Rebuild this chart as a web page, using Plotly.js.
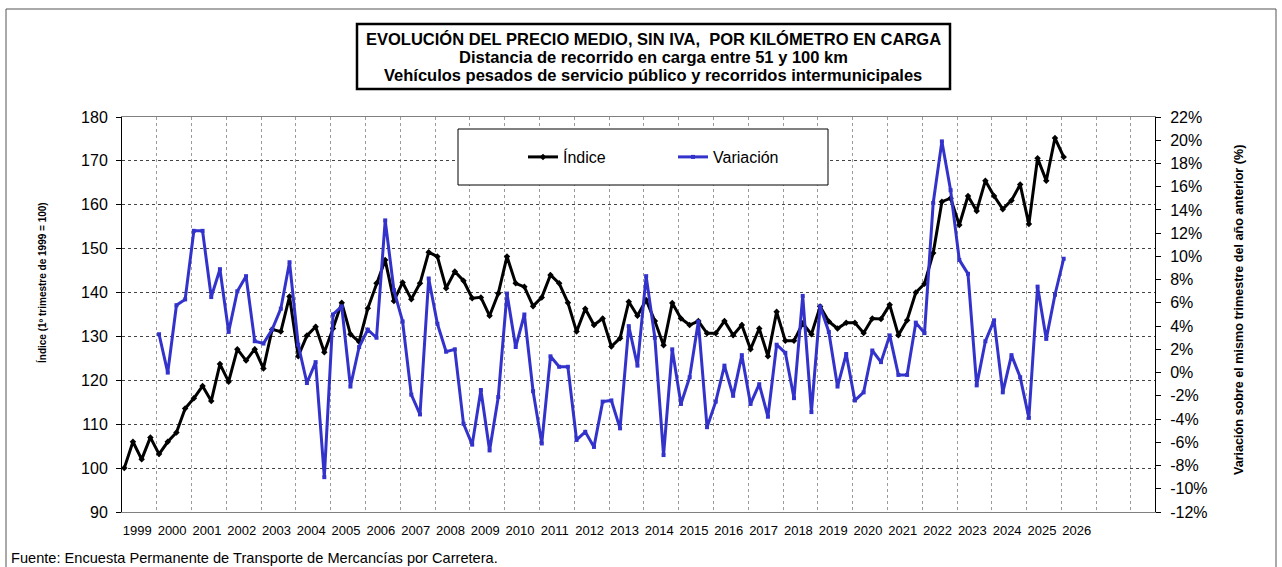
<!DOCTYPE html>
<html>
<head>
<meta charset="utf-8">
<script src="https://cdn.plot.ly/plotly-3.0.1.min.js"></script>
<style>html,body{margin:0;padding:0;background:#fff;}#chart{width:1282px;height:567px;}</style>
</head>
<body>
<div id="chart"></div>
<script>
// Años (etiquetas del eje X), un grupo de 4 trimestres por año
const years = [1999,2000,2001,2002,2003,2004,2005,2006,2007,2008,2009,2010,2011,2012,2013,2014,2015,2016,2017,2018,2019,2020,2021,2022,2023,2024,2025,2026];

// Índice (1º trimestre de 1999 = 100), trimestral desde 1999 T1 hasta 2026 T1
const indice = [
  100.0, 106.0, 102.0, 107.0,
  103.2, 106.0, 108.1, 113.6,
  115.9, 118.7, 115.3, 123.7,
  119.7, 127.1, 124.5, 127.1,
  122.7, 131.6, 131.1, 139.1,
  125.5, 130.2, 132.2, 126.4,
  131.8, 137.7, 130.5, 128.8,
  136.4, 142.1, 147.4, 138.1,
  142.3, 138.5, 142.1, 149.2,
  148.2, 141.0, 144.8, 142.7,
  138.7, 138.9, 134.7, 139.8,
  148.2, 142.1, 141.3, 136.9,
  138.9, 144.0, 142.1, 137.7,
  131.1, 136.3, 132.6, 134.1,
  127.7, 129.6, 137.9, 134.7,
  138.3, 133.5, 128.0, 137.6,
  134.1, 132.6, 133.5, 130.7,
  130.7, 133.5, 130.3, 132.6,
  127.1, 131.8, 125.5, 135.6,
  129.0, 129.0, 133.0, 130.5,
  136.8, 133.4, 131.8, 133.1,
  133.1, 130.8, 134.1, 134.0,
  137.2, 130.3, 133.7, 140.0,
  142.0, 149.0, 160.7, 161.5,
  155.4, 162.0, 158.6, 165.5,
  162.0, 159.0, 161.0, 164.6,
  155.6, 170.6, 165.5, 175.2,
  170.9
];

// Variación sobre el mismo trimestre del año anterior (%), desde 2000 T1
const variacion = [
  3.3, 0.0, 5.8, 6.3,
  12.2, 12.2, 6.5, 8.9,
  3.5, 7.0, 8.3, 2.7,
  2.5, 3.7, 5.5, 9.5,
  2.4, -0.9, 0.9, -9.0,
  5.0, 5.7, -1.2, 2.2,
  3.7, 3.0, 13.1, 7.1,
  4.4, -1.9, -3.6, 8.1,
  4.2, 1.8, 2.0, -4.4,
  -6.2, -1.5, -6.7, -2.1,
  6.8, 2.2, 5.0, -1.6,
  -6.1, 1.4, 0.5, 0.5,
  -5.8, -5.1, -6.4, -2.5,
  -2.4, -4.8, 4.0, 0.6,
  8.3, 3.0, -7.1, 2.0,
  -2.7, -0.4, 4.4, -4.7,
  -2.5, 0.6, -2.0, 1.5,
  -2.7, -1.0, -3.8, 2.4,
  1.7, -2.2, 6.6, -3.4,
  5.7, 3.5, -1.2, 1.6,
  -2.4, -1.7, 1.9, 0.9,
  3.2, -0.2, -0.2, 4.3,
  3.4, 14.6, 19.9, 15.7,
  9.7, 8.5, -1.1, 2.7,
  4.5, -1.7, 1.5, -0.4,
  -3.9, 7.4, 2.9, 6.7,
  9.8
];

const leftTicks = [90,100,110,120,130,140,150,160,170,180];
const rightTicks = [-12,-10,-8,-6,-4,-2,0,2,4,6,8,10,12,14,16,18,20,22];

const titleLines = [
  'EVOLUCIÓN DEL PRECIO MEDIO, SIN IVA,  POR KILÓMETRO EN CARGA',
  'Distancia de recorrido en carga entre 51 y 100 km',
  'Vehículos pesados de servicio público y recorridos intermunicipales'
];

// ---- construcción ----
const Q = 4;
const xIndice = indice.map((_, i) => i);
const xVar = variacion.map((_, i) => i + Q);
const gridYears = years.concat([2027, 2028]);
const gridVals = gridYears.map((_, k) => -0.26 + Q * k);
const labelVals = years.map((_, k) => 1.5 + Q * k);

const FONT = 'Liberation Sans, Arial, sans-serif';
const PL = 122, PR = 1155, PT = 117, PB = 512;
const PW = PR - PL, PH = PB - PT;
const px = x => (x - PL) / PW;
const py = y => (PB - y) / PH;

const traces = [
  {
    x: xIndice, y: indice, name: 'Índice', type: 'scatter', mode: 'lines+markers',
    line: {color: '#000000', width: 3},
    marker: {symbol: 'diamond', size: 5, color: '#000000'},
    xaxis: 'x', yaxis: 'y'
  },
  {
    x: xVar, y: variacion, name: 'Variación', type: 'scatter', mode: 'lines+markers',
    line: {color: '#3333CC', width: 3},
    marker: {symbol: 'square', size: 4, color: '#3333CC'},
    xaxis: 'x', yaxis: 'y2'
  }
];

const titleY = [39, 57, 75];
const annotations = titleLines.map((t, k) => ({
  text: '<b>' + t + '</b>', xref: 'paper', yref: 'paper',
  x: px(653), y: py(titleY[k]), xanchor: 'center', yanchor: 'middle', showarrow: false,
  font: {family: FONT, size: 16.5, color: '#000'}
})).concat([
  {text: '<b>Índice (1º trimestre de 1999 = 100)</b>', textangle: -90, xref: 'paper', yref: 'paper',
   x: px(42), y: py(283), xanchor: 'center', yanchor: 'middle', showarrow: false,
   font: {family: FONT, size: 10, color: '#000'}},
  {text: '<b>Variación sobre el mismo trimestre del año anterior (%)</b>', textangle: -90, xref: 'paper', yref: 'paper',
   x: px(1239), y: py(310), xanchor: 'center', yanchor: 'middle', showarrow: false,
   font: {family: FONT, size: 12.6, color: '#000'}},
  {text: 'Fuente: Encuesta Permanente de Transporte de Mercancías por Carretera.', xref: 'paper', yref: 'paper',
   x: px(9), y: py(558), xanchor: 'left', yanchor: 'middle', showarrow: false,
   font: {family: FONT, size: 14.6, color: '#000'}}
]);

const layout = {
  width: 1282, height: 567,
  margin: {l: PL, r: 1282 - PR, t: PT, b: 567 - PB, pad: 0},
  paper_bgcolor: '#ffffff', plot_bgcolor: '#ffffff',
  font: {family: FONT, color: '#000000'},
  showlegend: true,
  legend: {
    orientation: 'h', x: px(523), xanchor: 'left', y: py(157), yanchor: 'middle',
    bgcolor: 'rgba(0,0,0,0)', borderwidth: 0,
    font: {family: FONT, size: 16, color: '#000'},
    entrywidth: 105, entrywidthmode: 'pixels', itemwidth: 30
  },
  xaxis: {
    range: [-0.26, 118.5], showgrid: false, zeroline: false,
    tickmode: 'array', tickvals: labelVals, ticktext: years.map(String),
    ticks: '', tickfont: {family: FONT, size: 13, color: '#000'}, ticklabelstandoff: 6,
    showline: true, mirror: true, linecolor: '#808080', linewidth: 1,
    minor: {tickmode: 'array', tickvals: gridVals, showgrid: true, gridcolor: '#9a9a9a', griddash: 'dot', gridwidth: 1, ticks: ''},
    fixedrange: true
  },
  yaxis: {
    range: [90, 180], tickmode: 'array', tickvals: leftTicks, ticktext: leftTicks.map(String),
    showgrid: true, gridcolor: '#444444', griddash: 'dot', gridwidth: 1,
    zeroline: false, showline: true, linecolor: '#000', linewidth: 1,
    ticks: 'outside', ticklen: 5, tickcolor: '#000', ticklabelstandoff: 5,
    tickfont: {family: FONT, size: 16, color: '#000'},
    fixedrange: true
  },
  yaxis2: {
    range: [-12, 22], overlaying: 'y', side: 'right', anchor: 'x',
    tickmode: 'array', tickvals: rightTicks, ticktext: rightTicks.map(v => v + '%'),
    showgrid: false, zeroline: false, showline: true, linecolor: '#000', linewidth: 1,
    ticks: 'outside', ticklen: 5, tickcolor: '#000', ticklabelstandoff: 6,
    tickfont: {family: FONT, size: 16, color: '#000'},
    fixedrange: true
  },
  shapes: [
    {type: 'rect', xref: 'paper', yref: 'paper', x0: px(6), x1: px(1276), y0: py(620), y1: py(9),
     line: {color: '#555555', width: 1}, fillcolor: 'rgba(0,0,0,0)', layer: 'below'},
    {type: 'rect', xref: 'paper', yref: 'paper', x0: px(357), x1: px(950), y0: py(89), y1: py(24),
     line: {color: '#000', width: 2.5}, fillcolor: '#ffffff', layer: 'below'},
    {type: 'rect', xref: 'paper', yref: 'paper', x0: px(458), x1: px(828), y0: py(185), y1: py(129),
     line: {color: '#000', width: 1}, fillcolor: '#ffffff', layer: 'above'}
  ],
  annotations: annotations
};

Plotly.newPlot('chart', traces, layout, {displayModeBar: false, staticPlot: true});
</script>
</body>
</html>
